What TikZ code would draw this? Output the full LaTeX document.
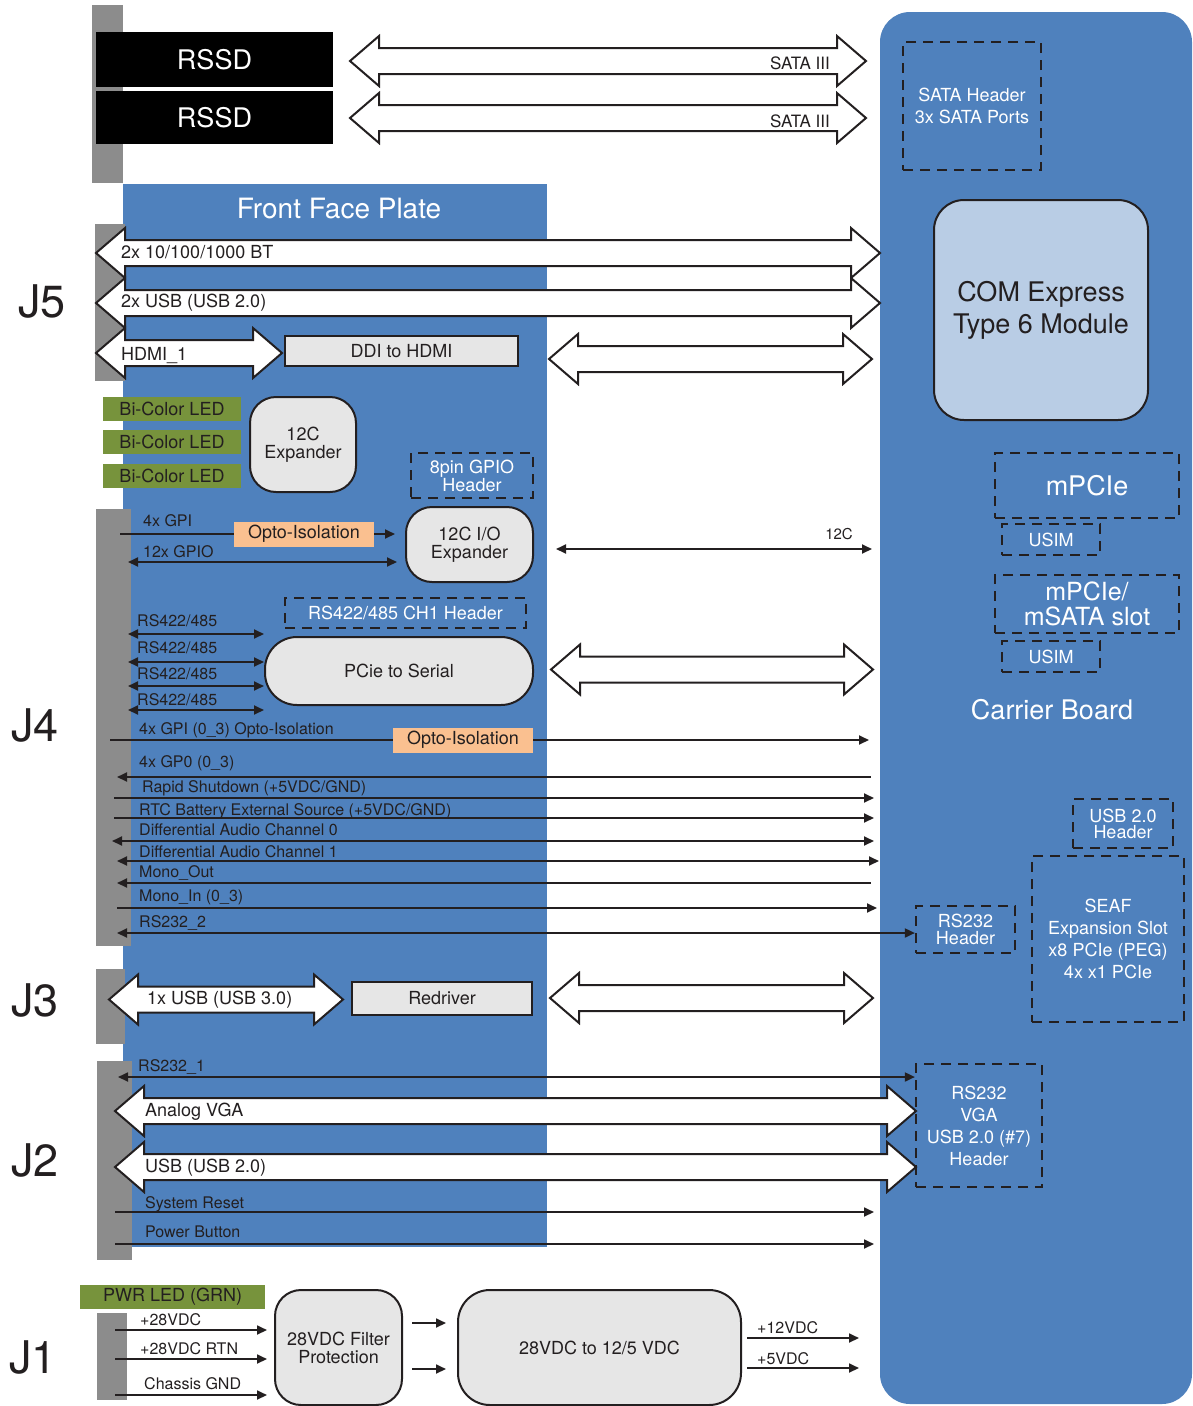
\documentclass[tikz,border=0pt]{standalone}
\usepackage{fontspec}
\setmainfont{TeX Gyre Heros}
\usetikzlibrary{arrows.meta,positioning}
\definecolor{plateblue}{RGB}{79,129,189}
\definecolor{bargray}{RGB}{140,140,140}
\definecolor{boxgray}{RGB}{230,230,230}
\definecolor{ledgreen}{RGB}{119,147,60}
\definecolor{optoorange}{RGB}{250,192,144}
\definecolor{comblue}{RGB}{185,205,229}
\definecolor{inkgray}{RGB}{35,31,32}

% hollow double arrow: left tip x, right tip x, centre y
\newcommand{\fatarrow}[3]{%
  \draw[fat] (#1,#3) -- (#1+29,#3-25) -- (#1+29,#3-13) -- (#2-29,#3-13)
    -- (#2-29,#3-25) -- (#2,#3) -- (#2-29,#3+25) -- (#2-29,#3+13)
    -- (#1+29,#3+13) -- (#1+29,#3+25) -- cycle;}
\newcommand{\fs}[2]{\fontsize{#1}{#2}\selectfont}

\begin{document}
\begin{tikzpicture}[x=1pt,y=-1pt,line join=miter,
  fat/.style={draw=inkgray,fill=white,line width=2pt},
  sig/.style={draw=inkgray,line width=1.8pt},
  bar/.style={fill=bargray},
  rssd/.style={fill=black,text=white,font=\fs{27}{30},inner sep=0pt,
    minimum width=237pt},
  rbox/.style={draw=inkgray,fill=boxgray,line width=2pt,rounded corners=26pt,
    align=center,font=\fs{18}{18},text=inkgray,inner sep=0pt},
  sqbox/.style={draw=inkgray,fill=boxgray,line width=2pt,font=\fs{18}{18},
    text=inkgray,inner sep=0pt},
  hdr/.style={draw=inkgray,dash pattern=on 10pt off 7pt,line width=2.2pt,
    align=center,text=white,font=\fs{18}{22},inner sep=0pt},
  led/.style={fill=ledgreen,font=\fs{18}{18},text=inkgray,inner sep=0pt,
    minimum width=138pt,minimum height=24pt},
  opto/.style={fill=optoorange,font=\fs{18}{18},text=inkgray,inner sep=0pt,
    minimum width=140pt,minimum height=25pt},
  lbl/.style={font=\fs{16}{16},text=inkgray,anchor=west,inner sep=0pt},
  wlbl/.style={font=\fs{18}{18},text=inkgray,anchor=west,inner sep=0pt},
  title/.style={font=\fs{28}{28},text=white,inner sep=0pt},
  jlbl/.style={font=\fs{45}{45},text=inkgray,inner sep=0pt},
  >={Triangle[length=10pt,width=9pt]}]
  \useasboundingbox (0,0) rectangle (1193,1406);

  % boards and connector bars
  \fill[plateblue,rounded corners=30pt] (880,12) rectangle (1192,1404);
  \fill[plateblue] (123,184) rectangle (547,1247);
  \fill[bar] (92,5) rectangle (123,183);
  \fill[bar] (95,224) rectangle (125,381);
  \fill[bar] (96,509) rectangle (131,946);
  \fill[bar] (96,969) rectangle (125,1044);
  \fill[bar] (97,1061) rectangle (132,1260);
  \fill[bar] (97,1313) rectangle (127,1400);

  \node[jlbl] (j5) at (42,301) {J5};
  \node[jlbl] (j4) at (35,725) {J4};
  \node[jlbl] (j3) at (35,1000) {J3};
  \node[jlbl] (j2) at (35,1160) {J2};
  \node[jlbl] (j1) at (33,1357) {J1};

  % drives
  \node[rssd,minimum height=55pt] (rssdA) at (214.5,59.5) {RSSD};
  \node[rssd,minimum height=53pt] (rssdB) at (214.5,117.5) {RSSD};
  \fatarrow{350}{866}{61}
  \fatarrow{350}{866}{118}
  \node[font=\fs{17}{17},text=inkgray,anchor=east,inner sep=0pt] (sataA) at (830,63) {SATA III};
  \node[font=\fs{17}{17},text=inkgray,anchor=east,inner sep=0pt] (sataB) at (830,121) {SATA III};

  % carrier board
  \node[hdr,minimum width=138pt,minimum height=128pt] (satahdr) at (972,106)
    {SATA Header\\3x SATA Ports};
  \node[rbox,fill=comblue,rounded corners=30pt,font=\fs{27}{32},
    minimum width=214pt,minimum height=220pt] (com) at (1041,310)
    {COM Express\\Type 6 Module};
  \node[hdr,font=\fs{27}{27},minimum width=184pt,minimum height=65pt] (mpcie) at (1087,485.5) {mPCIe};
  \node[hdr,minimum width=98pt,minimum height=31pt] (usimA) at (1051,539.5) {USIM};
  \node[hdr,font=\fs{25}{25},minimum width=184pt,minimum height=58pt] (msata) at (1087,604)
    {mPCIe/\\mSATA slot};
  \node[hdr,minimum width=98pt,minimum height=31pt] (usimB) at (1051,656.5) {USIM};
  \node[title,font=\fs{27}{27}] (carrier) at (1052,710) {Carrier Board};
  \node[hdr,font=\fs{18}{16},minimum width=100pt,minimum height=49pt] (usbhdr) at (1123,823.5)
    {USB 2.0\\Header};
  \node[hdr,minimum width=152pt,minimum height=166pt] (seaf) at (1108,939)
    {SEAF\\Expansion Slot\\x8 PCIe (PEG)\\4x x1 PCIe};
  \node[hdr,font=\fs{18}{17},minimum width=99pt,minimum height=47pt] (rs232hdr) at (965.5,929.5)
    {RS232\\Header};

  % front face plate, J5
  \node[title] (plate) at (339,208) {Front Face Plate};
  \fatarrow{96}{880}{253}
  \fatarrow{96}{880}{303}
  \fatarrow{96}{282}{353}
  \node[wlbl] (bt) at (121,252) {2x 10/100/1000 BT};
  \node[wlbl] (usbtwo) at (121,303) {2x USB (USB 2.0)};
  \node[wlbl] (hdmi) at (121,356) {HDMI\_1};
  \node[sqbox,minimum width=233pt,minimum height=30pt] (ddi) at (401.5,351) {DDI to HDMI};
  \fatarrow{549}{872}{359}

  % LEDs and expanders
  \node[led] (ledA) at (172,409) {Bi-Color LED};
  \node[led] (ledB) at (172,441.5) {Bi-Color LED};
  \node[led] (ledC) at (172,476) {Bi-Color LED};
  \node[rbox,minimum width=106pt,minimum height=95pt] (ledexp) at (303,444.5) {12C\\Expander};
  \node[hdr,font=\fs{18}{18},minimum width=122pt,minimum height=45pt] (gpiohdr) at (472,475.5)
    {8pin GPIO\\Header};
  \node[rbox,minimum width=127pt,minimum height=75pt] (ioexp) at (469.5,544.5) {12C I/O\\Expander};

  % J4
  \node[opto] (optoA) at (304,534) {Opto-Isolation};
  \coordinate (gpiL) at (120,534);
  \coordinate (gpioL) at (128,562);
  \draw[sig] (gpiL) -- (optoA.west);
  \draw[sig,->,shorten >=10pt] (optoA.east) -- (ioexp.west |- optoA.east);
  \draw[sig,<->,shorten >=8pt] (gpioL) -- (ioexp.west |- gpioL);
  \node[lbl] (gpiLbl) at (143,521) {4x GPI};
  \node[lbl] (gpioLbl) at (143,552) {12x GPIO};
  \draw[sig,<->] (556,549) -- (872,549);
  \node[font=\fs{15}{15},text=inkgray,anchor=east,inner sep=0pt] (itwoc) at (853,534) {12C};

  \node[hdr,minimum width=241pt,minimum height=30pt] (rshdr) at (405.5,613) {RS422/485 CH1 Header};
  \node[rbox,rounded corners=32pt,minimum width=268pt,minimum height=68pt] (serial) at (399,671)
    {PCie to Serial};
  \draw[sig,<->] (128,634) -- (264,634);
  \draw[sig,<->] (128,662) -- (264,662);
  \draw[sig,<->] (128,686) -- (264,686);
  \draw[sig,<->] (128,710) -- (264,710);
  \node[lbl] (rsA) at (137,621) {RS422/485};
  \node[lbl] (rsB) at (137,648) {RS422/485};
  \node[lbl] (rsC) at (137,674) {RS422/485};
  \node[lbl] (rsD) at (137,700) {RS422/485};
  \fatarrow{551}{873}{669.5}

  \node[opto] (optoB) at (463,740) {Opto-Isolation};
  \coordinate (gpiB) at (110,740);
  \coordinate (gpiBR) at (869,740);
  \draw[sig] (gpiB) -- (optoB.west);
  \draw[sig,->] (optoB.east) -- (gpiBR);
  \node[lbl] (gpiBLbl) at (139,730) {4x GPI (0\_3) Opto-Isolation};
  \draw[sig,<-] (117,777) -- (871,777);
  \node[lbl] (gpoLbl) at (139,763) {4x GP0 (0\_3)};
  \draw[sig,->] (114,798) -- (874,798);
  \node[lbl] (shutLbl) at (142,788) {Rapid Shutdown (+5VDC/GND)};
  \draw[sig,->] (114,818) -- (874,818);
  \node[lbl] (rtcLbl) at (139,811) {RTC Battery External Source (+5VDC/GND)};
  \draw[sig,<->] (112,841) -- (874,841);
  \node[lbl] (audALbl) at (139,830) {Differential Audio Channel 0};
  \draw[sig,<->] (117,861) -- (879,861);
  \node[lbl] (audBLbl) at (139,852) {Differential Audio Channel 1};
  \draw[sig,<-] (117,883) -- (871,883);
  \node[lbl] (monoOLbl) at (139,873) {Mono\_Out};
  \draw[sig,->] (117,908) -- (877,908);
  \node[lbl] (monoILbl) at (139,897) {Mono\_In (0\_3)};
  \coordinate (rsTwoL) at (117,933);
  \draw[sig,<->] (rsTwoL) -- (rs232hdr.west |- rsTwoL);
  \node[lbl] (rsTwoLbl) at (139,923) {RS232\_2};

  % J3
  \fatarrow{109}{343}{999.5}
  \node[wlbl] (usbthree) at (147,1000) {1x USB (USB 3.0)};
  \node[sqbox,minimum width=180pt,minimum height=33pt] (redrv) at (442,998.5) {Redriver};
  \fatarrow{550}{873}{998}

  % J2
  \fatarrow{115}{916}{1111}
  \fatarrow{115}{916}{1167}
  \node[hdr,minimum width=126pt,minimum height=123pt] (vgahdr) at (979,1125.5)
    {RS232\\VGA\\USB 2.0 (\#7)\\Header};
  \coordinate (rsOneL) at (118,1077);
  \draw[sig,<->] (rsOneL) -- (vgahdr.west |- rsOneL);
  \node[lbl] (rsOneLbl) at (138,1067) {RS232\_1};
  \node[wlbl] (vga) at (145,1112) {Analog VGA};
  \node[wlbl] (usbJtwo) at (145,1168) {USB (USB 2.0)};
  \draw[sig,->] (115,1212) -- (874,1212);
  \node[lbl] (resetLbl) at (145,1204) {System Reset};
  \draw[sig,->] (115,1244) -- (874,1244);
  \node[lbl] (powerLbl) at (145,1232) {Power Button};

  % J1 power
  \node[led,minimum width=185pt] (pwrled) at (172.5,1297) {PWR LED (GRN)};
  \node[rbox,minimum width=127pt,minimum height=115pt] (filter) at (338.5,1347.5)
    {28VDC Filter\\Protection};
  \node[rbox,rounded corners=32pt,minimum width=283pt,minimum height=115pt] (conv) at (599.5,1347.5)
    {28VDC to 12/5 VDC};
  \draw[sig,->] (115,1330) -- (267,1330);
  \node[lbl] (vinLbl) at (140,1320) {+28VDC};
  \draw[sig,->] (115,1359) -- (267,1359);
  \node[lbl] (rtnLbl) at (140,1349) {+28VDC RTN};
  \draw[sig,->] (115,1395) -- (267,1395);
  \node[lbl] (gndLbl) at (144,1384) {Chassis GND};
  \draw[sig,->,shorten <=9pt,shorten >=11pt] (filter.east |- 0,1323) -- (conv.west |- 0,1323);
  \draw[sig,->,shorten <=9pt,shorten >=11pt] (filter.east |- 0,1369) -- (conv.west |- 0,1369);
  \coordinate (twelveR) at (859,1338);
  \coordinate (fiveR) at (859,1368);
  \draw[sig,->,shorten <=5pt] (conv.east |- twelveR) -- (twelveR);
  \draw[sig,->,shorten <=5pt] (conv.east |- fiveR) -- (fiveR);
  \node[lbl] (twelveLbl) at (757,1328) {+12VDC};
  \node[lbl] (fiveLbl) at (757,1359) {+5VDC};
\end{tikzpicture}
\end{document}
